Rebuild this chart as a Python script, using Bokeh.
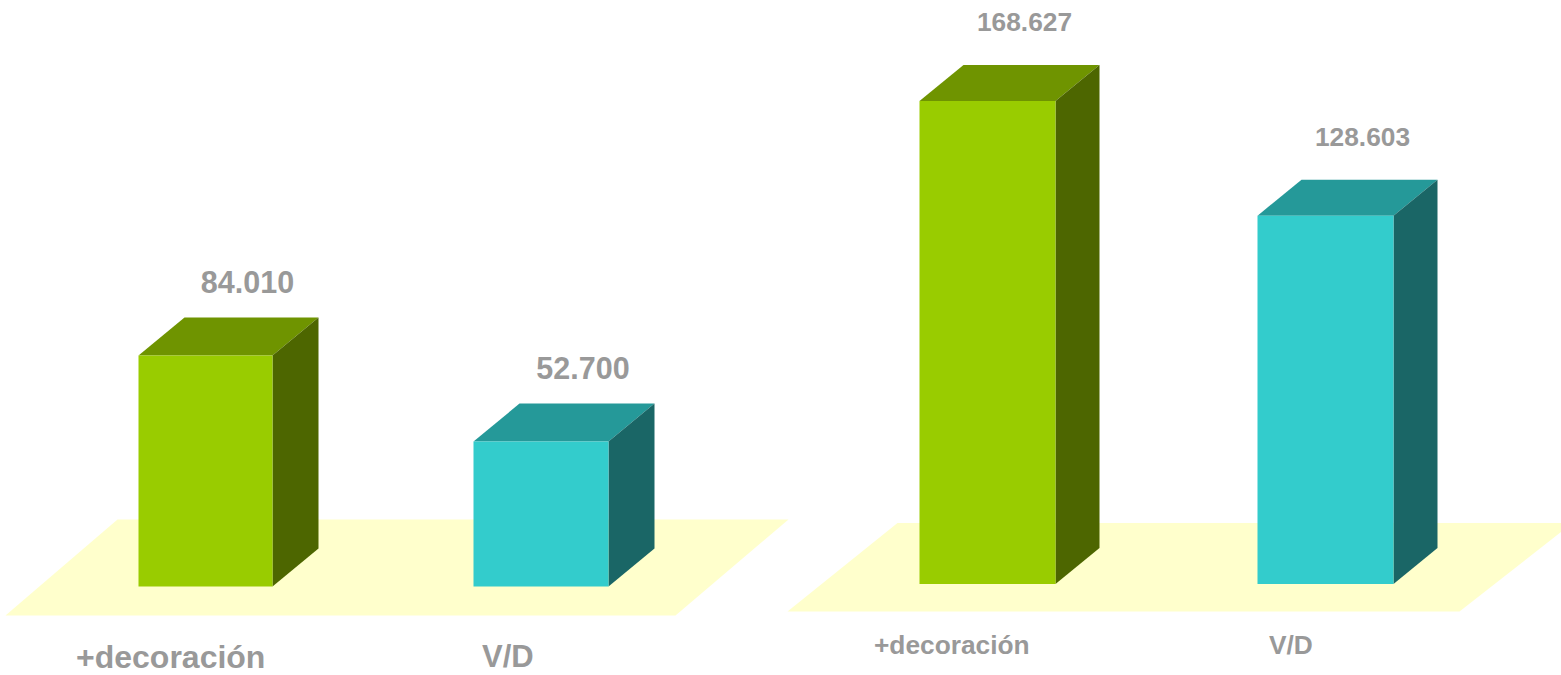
from bokeh.plotting import figure
from bokeh.models import Range1d
from bokeh.core.properties import value
from bokeh.embed import file_html
from bokeh.resources import INLINE

categories = ["+decoración", "V/D"]
values_left = [84010, 52700]
values_right = [168627, 128603]
labels_left = ["84.010", "52.700"]
labels_right = ["168.627", "128.603"]

W, H = 1561, 675
FRONT = ["#99CC00", "#33CCCC"]
TOP = ["#6F9400", "#259999"]
SIDE = ["#4D6600", "#1A6666"]
FLOOR = "#FFFFCC"
GREY = "#999999"

panels = [
    dict(name="left", values=values_left, labels=labels_left, base=586.0, k=231/84010,
         xs=[(138, 272), (473, 608)], dx=46, dy=38, floor=[(5, 615), (117, 519), (788, 519), (675, 615)],
         vsize="30.5px", vlift=74, vshift=42, csize=["32px", "31px"], cx=[75.5, 481.5], cy=656),
    dict(name="right", values=values_right, labels=labels_right, base=583.5, k=483/168627,
         xs=[(919, 1055), (1257, 1393)], dx=44, dy=36,
         floor=[(787, 611), (897, 522.5), (1572, 522.5), (1459, 611)],
         vsize="26.3px", vlift=79, vshift=37, csize=["26.3px", "26.3px"], cx=[873.5, 1268.5], cy=644),
]

p = figure(width=W, height=H, output_backend="svg", toolbar_location=None,
           x_range=Range1d(0, W), y_range=Range1d(0, H),
           x_axis_type=None, y_axis_type=None, min_border=0, outline_line_color=None,
           background_fill_color="white", border_fill_color="white")
p.grid.visible = False

for pan in panels:
    base, k, name = pan["base"], pan["k"], pan["name"]
    # value axis of this panel: zero at the floor line, k pixels per unit
    p.extra_y_ranges[name] = Range1d(-(H - base) / k, base / k)
    u = 1 / k
    fy = [(base - y) * u for _, y in pan["floor"]]
    p.patch([x for x, _ in pan["floor"]], fy, fill_color=FLOOR, line_color=None, y_range_name=name)
    dx, dy = pan["dx"], pan["dy"] * u
    for i, v in enumerate(pan["values"]):
        x0, x1 = pan["xs"][i]
        p.patch([x0, x1, x1 + dx, x0 + dx], [v, v, v + dy, v + dy], fill_color=TOP[i], line_color=None, y_range_name=name)
        p.patch([x1, x1 + dx, x1 + dx, x1], [0, dy, v + dy, v], fill_color=SIDE[i], line_color=None, y_range_name=name)
        p.quad(left=x0, right=x1, bottom=0, top=v, fill_color=FRONT[i], line_color=None, y_range_name=name)
        p.text(x=[(x0 + x1) / 2 + pan["vshift"]], y=[v], text=[pan["labels"][i]], y_range_name=name,
               y_offset=-pan["vlift"], text_align="center", text_baseline="alphabetic",
               text_font=value("Liberation Sans"), text_font_style="bold",
               text_font_size=pan["vsize"], text_color=GREY)
        p.text(x=[pan["cx"][i]], y=[(base - pan["cy"]) * u], text=[categories[i]], y_range_name=name,
               text_align="left", text_baseline="alphabetic",
               text_font=value("Liberation Sans"), text_font_style="bold",
               text_font_size=pan["csize"][i], text_color=GREY)

open("out.html", "w").write(file_html(p, INLINE))
